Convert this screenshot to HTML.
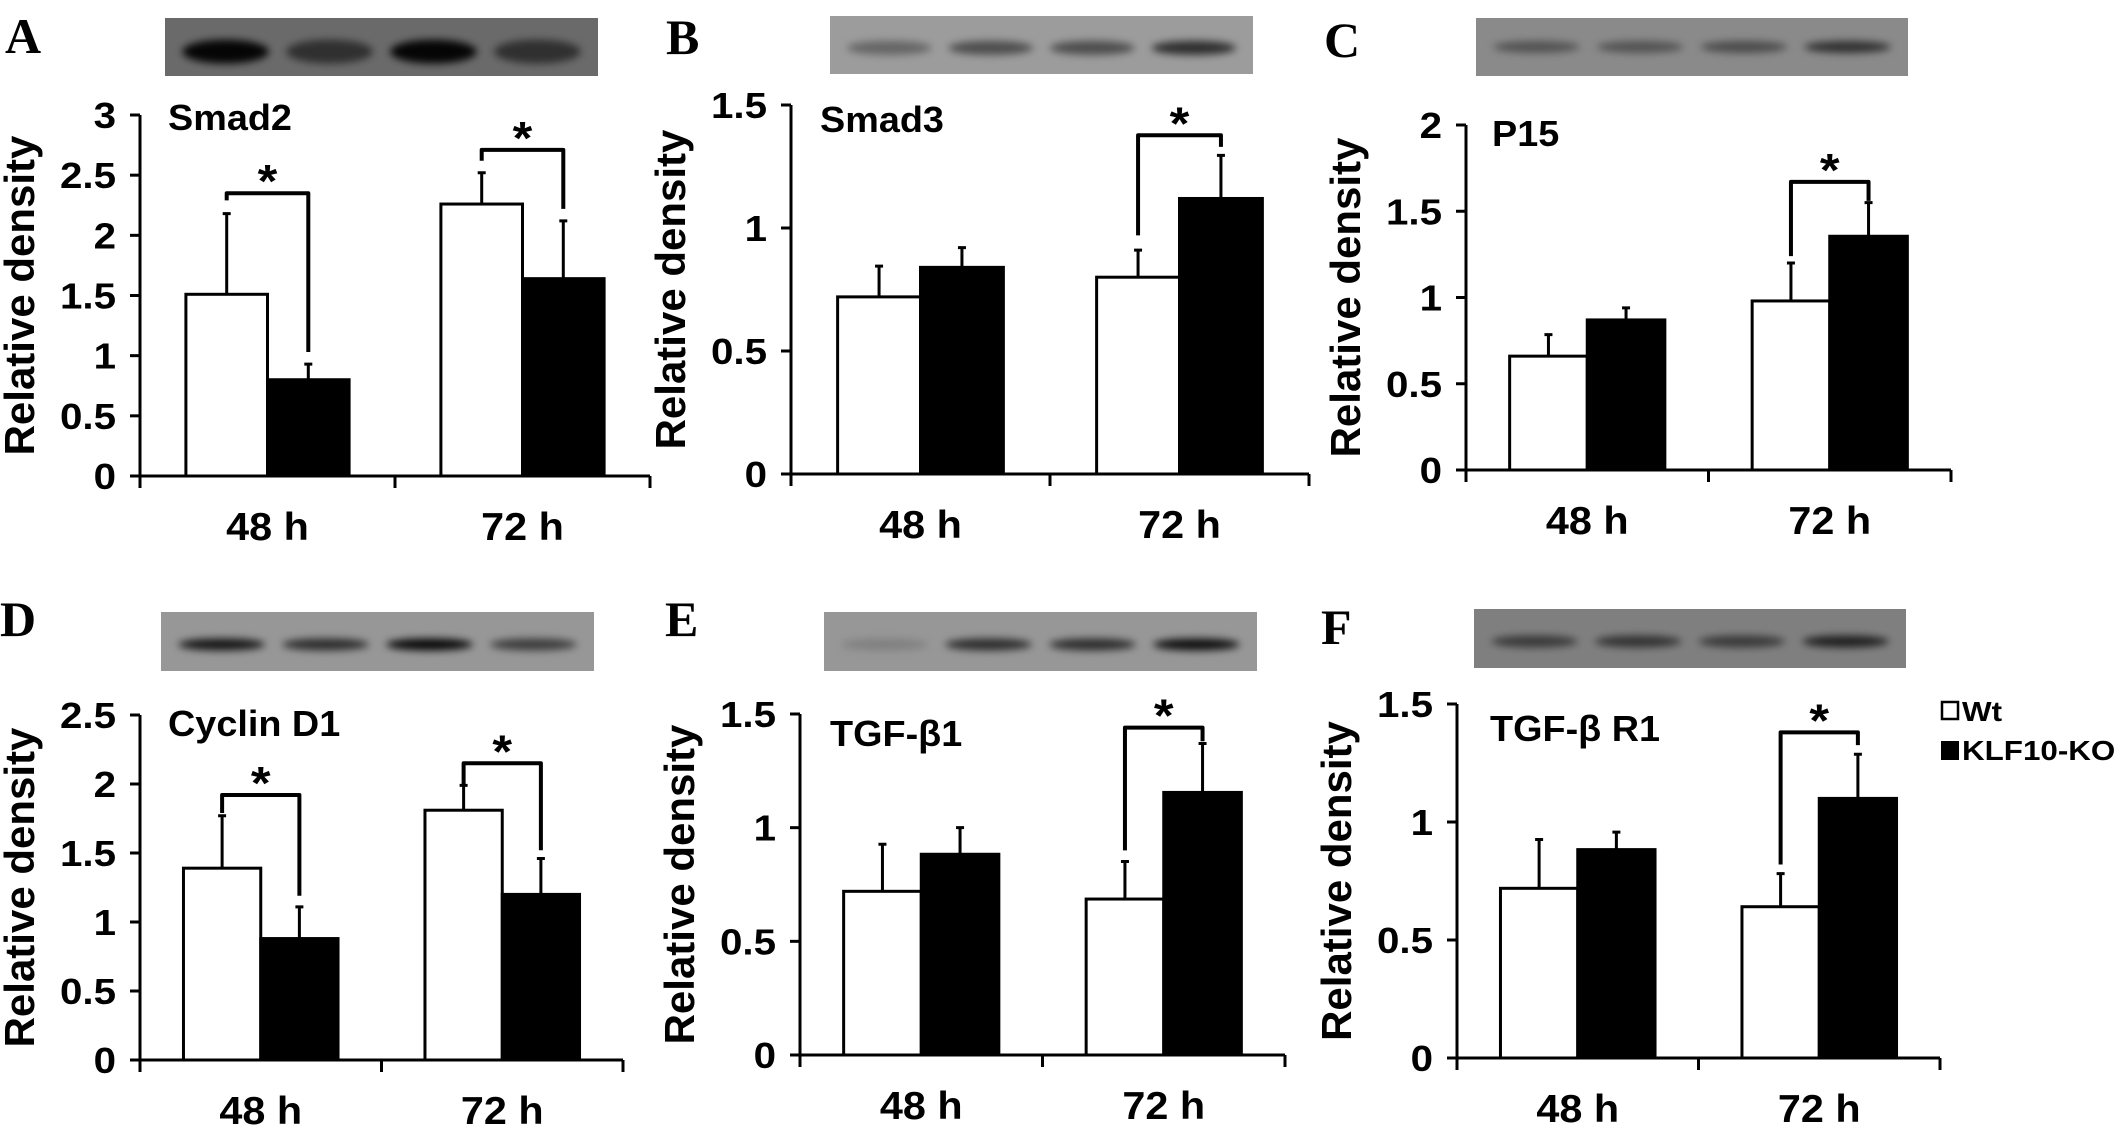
<!DOCTYPE html>
<html><head><meta charset="utf-8"><style>
html,body{margin:0;padding:0;background:#fff;}
svg{display:block;}
text{font-family:"Liberation Sans",Arial,sans-serif;font-weight:bold;fill:#000;}
</style></head>
<body>
<svg id="fig" width="2126" height="1135" viewBox="0 0 2126 1135" xmlns="http://www.w3.org/2000/svg">
<defs><filter id="blur" x="-50%" y="-100%" width="200%" height="300%"><feGaussianBlur stdDeviation="4"/></filter></defs>
</svg>
<script>
const categories=['48 h','72 h'];
const seriesNames=['Wt','KLF10-KO'];
// Panel A Smad2
const wtA=[1.51,2.26], koA=[0.80,1.64], wtErrA=[0.67,0.26], koErrA=[0.13,0.48];
const sigCatA=[0,1], sigLevelA=[2.35,2.71], sigLeftA=[2.29,2.62], sigRightA=[1.03,2.22];
const ticksA=[0,0.5,1,1.5,2,2.5,3], tickLabelsA=['0','0.5','1','1.5','2','2.5','3'];
// Panel B Smad3
const wtB=[0.72,0.80], koB=[0.84,1.12], wtErrB=[0.125,0.11], koErrB=[0.08,0.175];
const sigCatB=[1], sigLevelB=[1.377], sigLeftB=[0.97], sigRightB=[1.33];
const ticksB=[0,0.5,1,1.5], tickLabelsB=['0','0.5','1','1.5'];
// Panel C P15
const wtC=[0.66,0.98], koC=[0.87,1.355], wtErrC=[0.125,0.22], koErrC=[0.07,0.195];
const sigCatC=[1], sigLevelC=[1.67], sigLeftC=[1.24], sigRightC=[1.56];
const ticksC=[0,0.5,1,1.5,2], tickLabelsC=['0','0.5','1','1.5','2'];
// Panel D Cyclin D1
const wtD=[1.39,1.81], koD=[0.88,1.2], wtErrD=[0.38,0.18], koErrD=[0.23,0.26];
const sigCatD=[0,1], sigLevelD=[1.92,2.15], sigLeftD=[1.79,2.0], sigRightD=[1.19,1.52];
const ticksD=[0,0.5,1,1.5,2,2.5], tickLabelsD=['0','0.5','1','1.5','2','2.5'];
// Panel E TGF-b1
const wtE=[0.72,0.686], koE=[0.883,1.155], wtErrE=[0.207,0.165], koErrE=[0.117,0.215];
const sigCatE=[1], sigLevelE=[1.44], sigLeftE=[0.9], sigRightE=[1.38];
const ticksE=[0,0.5,1,1.5], tickLabelsE=['0','0.5','1','1.5'];
// Panel F TGF-b R1
const wtF=[0.719,0.641], koF=[0.883,1.1], wtErrF=[0.207,0.14], koErrF=[0.074,0.187];
const sigCatF=[1], sigLevelF=[1.38], sigLeftF=[0.82], sigRightF=[1.326];
const ticksF=[0,0.5,1,1.5], tickLabelsF=['0','0.5','1','1.5'];

const NS='http://www.w3.org/2000/svg';
const svg=document.getElementById('fig');
function mk(tag,attrs,parent){const e=document.createElementNS(NS,tag);for(const k in attrs)e.setAttribute(k,attrs[k]);(parent||svg).appendChild(e);return e;}
function txt(parent,x,y,s,size,anchor,sx){
  const t=mk('text',{transform:'translate('+x+','+y+') scale('+(sx||1.1)+',1)','font-size':size,'text-anchor':anchor||'start'},parent);
  t.textContent=s;return t;}

const panels=[
 {id:'a',letter:'A',title:'Smad2',wt:wtA,ko:koA,we:wtErrA,ke:koErrA,sc:sigCatA,sl:sigLevelA,sL:sigLeftA,sR:sigRightA,ticks:ticksA,tl:tickLabelsA,
  ax:140,zero:476,top:115,max:3,xEnd:650,blot:[165,18,433,58],bg:'#6a6a6a',bands:[0.95,0.55,0.95,0.55],bry:12,by:0.58,lx:5,ly:53,tx:168,ty:130},
 {id:'b',letter:'B',title:'Smad3',wt:wtB,ko:koB,we:wtErrB,ke:koErrB,sc:sigCatB,sl:sigLevelB,sL:sigLeftB,sR:sigRightB,ticks:ticksB,tl:tickLabelsB,
  ax:791,zero:474,top:105,max:1.5,xEnd:1309,blot:[830,16,423,58],bg:'#9c9c9c',bands:[0.35,0.5,0.5,0.7],bry:7,by:0.55,lx:666,ly:54,tx:820,ty:132},
 {id:'c',letter:'C',title:'P15',wt:wtC,ko:koC,we:wtErrC,ke:koErrC,sc:sigCatC,sl:sigLevelC,sL:sigLeftC,sR:sigRightC,ticks:ticksC,tl:tickLabelsC,
  ax:1466,zero:470,top:125,max:2,xEnd:1951,blot:[1476,18,432,58],bg:'#8a8a8a',bands:[0.4,0.4,0.45,0.65],bry:6,by:0.5,lx:1324,ly:57,tx:1492,ty:146},
 {id:'d',letter:'D',title:'Cyclin D1',wt:wtD,ko:koD,we:wtErrD,ke:koErrD,sc:sigCatD,sl:sigLevelD,sL:sigLeftD,sR:sigRightD,ticks:ticksD,tl:tickLabelsD,
  ax:140,zero:1060,top:715,max:2.5,xEnd:623,blot:[161,612,433,59],bg:'#979797',bands:[0.85,0.7,0.95,0.6],bry:6,by:0.55,lx:0,ly:636,tx:168,ty:736},
 {id:'e',letter:'E',title:'TGF-\u03B21',wt:wtE,ko:koE,we:wtErrE,ke:koErrE,sc:sigCatE,sl:sigLevelE,sL:sigLeftE,sR:sigRightE,ticks:ticksE,tl:tickLabelsE,
  ax:800,zero:1055,top:714,max:1.5,xEnd:1285,blot:[824,612,433,59],bg:'#979797',bands:[0.15,0.7,0.7,0.9],bry:6,by:0.55,lx:665,ly:636,tx:830,ty:746},
 {id:'f',letter:'F',title:'TGF-\u03B2 R1',wt:wtF,ko:koF,we:wtErrF,ke:koErrF,sc:sigCatF,sl:sigLevelF,sL:sigLeftF,sR:sigRightF,ticks:ticksF,tl:tickLabelsF,
  ax:1457,zero:1058,top:704,max:1.5,xEnd:1940,blot:[1474,609,432,59],bg:'#7f7f7f',bands:[0.55,0.6,0.55,0.75],bry:6,by:0.55,lx:1321,ly:644,tx:1490,ty:741}
];

panels.forEach(p=>{
  const g=mk('g',{});
  
  
  const y=v=>p.zero-(v/p.max)*(p.zero-p.top);
  const band=(p.xEnd-p.ax)/categories.length;
  const bw=band*0.32;
  const cx=i=>p.ax+band*(i+0.5);
  const L=mk('text',{x:p.lx,y:p.ly,'font-size':50,style:'font-family:"Liberation Serif",serif;font-weight:bold'},g);
  L.textContent=p.letter;
  
  
  const bg=mk('g',{},g);
  
  
  const [bx,by,bwid,bh]=p.blot;
  mk('rect',{x:bx,y:by,width:bwid,height:bh,fill:p.bg},bg);
  [0.14,0.38,0.62,0.86].forEach((f,i)=>{
    mk('ellipse',{cx:bx+bwid*f,cy:by+bh*p.by,rx:bwid*0.1,ry:p.bry,fill:'#000','fill-opacity':p.bands[i],filter:'url(#blur)'},bg);
  });
  const T=txt(g,p.tx,p.ty,p.title,36,'start',1.05);
  
  
  const yt=mk('text',{transform:'translate('+(p.ax-106)+','+((p.zero+p.top)/2)+') rotate(-90)','font-size':42,'text-anchor':'middle'},g);
  yt.textContent='Relative density';
  
  
  p.ticks.forEach((t,i)=>{
    const l=mk('line',{x1:p.ax-10,x2:p.ax,y1:y(t),y2:y(t),stroke:'#000','stroke-width':3},g);
    
    
    const tt=txt(g,p.ax-24,y(t)+13,p.tl[i],36,'end',1.12);
    
    
  });
  categories.forEach((c,i)=>{
    const x0=cx(i)-bw;
    const wb=mk('rect',{x:x0,y:y(p.wt[i]),width:bw,height:p.zero-y(p.wt[i]),fill:'#fff',stroke:'#000','stroke-width':3},g);
    
    
    const kb=mk('rect',{x:cx(i),y:y(p.ko[i]),width:bw,height:p.zero-y(p.ko[i]),fill:'#000',stroke:'#000','stroke-width':3},g);
    
    
    [[cx(i)-bw/2,p.wt[i],p.we[i]],[cx(i)+bw/2,p.ko[i],p.ke[i]]].forEach(([ex,v,e])=>{
      const eb=mk('path',{d:'M'+ex+','+y(v)+'V'+y(v+e)+'M'+(ex-4)+','+y(v+e)+'H'+(ex+4),stroke:'#000','stroke-width':3,fill:'none'},g);
      
      
    });
    const xl=txt(g,cx(i),p.zero+64,c,39,'middle',1.06);
    
    
  });
  p.sc.forEach((ci,k)=>{
    const lx=cx(ci)-bw/2, rx=cx(ci)+bw/2;
    const br=mk('path',{d:'M'+lx+','+y(p.sL[k])+'V'+y(p.sl[k])+'H'+rx+'V'+y(p.sR[k]),stroke:'#000','stroke-width':4,fill:'none','stroke-linejoin':'round'},g);
    
    
    const st=txt(g,(lx+rx)/2,y(p.sl[k])+4,'*',46,'middle',1.1);
    
    
  });
  const xa=mk('path',{d:'M'+p.ax+','+p.top+'V'+p.zero+'M'+(p.ax-10)+','+p.zero+'H'+p.xEnd,stroke:'#000','stroke-width':3,fill:'none'},g);
  
  
  [p.ax,p.ax+band,p.xEnd].forEach(tx=>{
    const t=mk('line',{x1:tx,x2:tx,y1:p.zero,y2:p.zero+12,stroke:'#000','stroke-width':3},g);
    
    
  });
});

const lg=mk('g',{});


const le1=mk('rect',{x:1942,y:702,width:16,height:17,fill:'#fff',stroke:'#000','stroke-width':2.5},lg);


const lt1=txt(lg,1962,721,seriesNames[0],28,'start',1.12);


const le2=mk('rect',{x:1941,y:741,width:18,height:19,fill:'#000'},lg);


const lt2=txt(lg,1962,760,seriesNames[1],28,'start',1.12);


</script>
</body></html>
